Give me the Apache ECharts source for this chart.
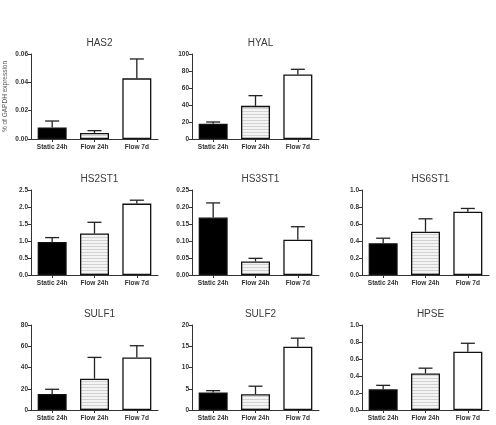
<!DOCTYPE html>
<html>
<head>
<meta charset="utf-8">
<script src="https://cdn.jsdelivr.net/npm/echarts@6/dist/echarts.min.js"></script>
<style>
  html, body { margin: 0; padding: 0; background: #fff; }
  #chart { width: 496px; height: 425px; }
</style>
</head>
<body>
<div id="chart"></div>
<script>
const categories = ['Static 24h', 'Flow 24h', 'Flow 7d']
const genes = ['HAS2', 'HYAL', 'HS2ST1', 'HS3ST1', 'HS6ST1', 'SULF1', 'SULF2', 'HPSE']

// mean values per gene
const has2 = [0.0082, 0.0042, 0.0428]
const hyal = [18, 39, 76]
const hs2st1 = [0.97, 1.22, 2.1]
const hs3st1 = [0.169, 0.04, 0.104]
const hs6st1 = [0.374, 0.508, 0.744]
const sulf1 = [15, 29.5, 49.5]
const sulf2 = [4.1, 3.7, 14.9]
const hpse = [0.243, 0.43, 0.685]

// upper error (SEM) per gene
const has2Err = [0.0045, 0.0017, 0.0137]
const hyalErr = [2, 12, 6]
const hs2st1Err = [0.13, 0.33, 0.1]
const hs3st1Err = [0.043, 0.009, 0.038]
const hs6st1Err = [0.059, 0.153, 0.039]
const sulf1Err = [4.5, 20, 11]
const sulf2Err = [0.45, 1.9, 2.0]
const hpseErr = [0.047, 0.062, 0.1]

// axis ticks
const yMax = [0.06, 100, 2.5, 0.25, 1.0, 80, 20, 1.0]
const yStep = [0.02, 20, 0.5, 0.05, 0.2, 20, 5, 0.2]
const yDecimals = [2, 0, 1, 2, 1, 0, 0, 1]

const means = [has2, hyal, hs2st1, hs3st1, hs6st1, sulf1, sulf2, hpse]
const errs = [has2Err, hyalErr, hs2st1Err, hs3st1Err, hs6st1Err, sulf1Err, sulf2Err, hpseErr]

// panel positions (col, row) - top row only has two panels
const panelPos = [[0, 0], [1, 0], [0, 1], [1, 1], [2, 1], [0, 2], [1, 2], [2, 2]]
const colLeft = [31, 192, 362]
const rowTop = [54, 190, 325]
const gridW = 127
const gridH = 85

// horizontal stripe fill for Flow 24h
const stripe = document.createElement('canvas')
stripe.width = 4
stripe.height = 3
const sctx = stripe.getContext('2d')
sctx.fillStyle = '#f4f4f4'
sctx.fillRect(0, 0, 4, 3)
sctx.fillStyle = '#d2d2d2'
sctx.fillRect(0, 0, 4, 1)

const fills = ['#000', { image: stripe, repeat: 'repeat' }, '#fff']
const fontFamily = 'Liberation Sans, Arial, sans-serif'

const grid = []
const xAxis = []
const yAxis = []
const title = []
const series = []

genes.forEach((gene, i) => {
  const [c, r] = panelPos[i]
  grid.push({ left: colLeft[c], top: rowTop[r], width: gridW, height: gridH })
  title.push({
    text: gene,
    left: colLeft[c] + gridW / 2,
    top: rowTop[r] - 21,
    textAlign: 'center',
    textStyle: { fontSize: 10, fontWeight: 'normal', color: '#3a3a3a', fontFamily }
  })
  xAxis.push({
    type: 'category',
    gridIndex: i,
    data: categories,
    axisLine: { lineStyle: { color: '#333', width: 1 } },
    axisTick: { show: true, alignWithLabel: true, length: 3, lineStyle: { color: '#333' } },
    axisLabel: { fontSize: 6.5, fontWeight: 'bold', color: '#333', margin: 5, fontFamily }
  })
  const dec = yDecimals[i]
  yAxis.push({
    type: 'value',
    gridIndex: i,
    min: 0,
    max: yMax[i],
    interval: yStep[i],
    name: i === 0 ? '% of GAPDH expression' : '',
    nameLocation: 'middle',
    nameGap: 22,
    nameTextStyle: { fontSize: 6.5, color: '#555', fontFamily },
    splitLine: { show: false },
    axisLine: { show: true, lineStyle: { color: '#333', width: 1 } },
    axisTick: { show: true, length: 3, lineStyle: { color: '#333' } },
    axisLabel: {
      fontSize: 6.5,
      fontWeight: 'bold',
      color: '#333',
      margin: 3,
      fontFamily,
      formatter: (v) => v.toFixed(dec)
    }
  })
  series.push({
    type: 'bar',
    xAxisIndex: i,
    yAxisIndex: i,
    barWidth: 29,
    data: means[i].map((v, k) => ({
      value: v,
      itemStyle: { color: fills[k], borderColor: '#111', borderWidth: 1.3 }
    }))
  })
  series.push({
    type: 'custom',
    xAxisIndex: i,
    yAxisIndex: i,
    z: 3,
    data: means[i].map((v, k) => [k, v, v + errs[i][k]]),
    renderItem(params, api) {
      const base = api.coord([api.value(0), api.value(1)])
      const top = api.coord([api.value(0), api.value(2)])
      const style = { stroke: '#222', lineWidth: 1.3 }
      return {
        type: 'group',
        children: [
          { type: 'line', shape: { x1: base[0], y1: base[1], x2: top[0], y2: top[1] }, style },
          { type: 'line', shape: { x1: top[0] - 7, y1: top[1], x2: top[0] + 7, y2: top[1] }, style }
        ]
      }
    }
  })
})

const chart = echarts.init(document.getElementById('chart'))
chart.setOption({
  animation: false,
  backgroundColor: '#fff',
  title,
  grid,
  xAxis,
  yAxis,
  series
})
</script>
</body>
</html>
